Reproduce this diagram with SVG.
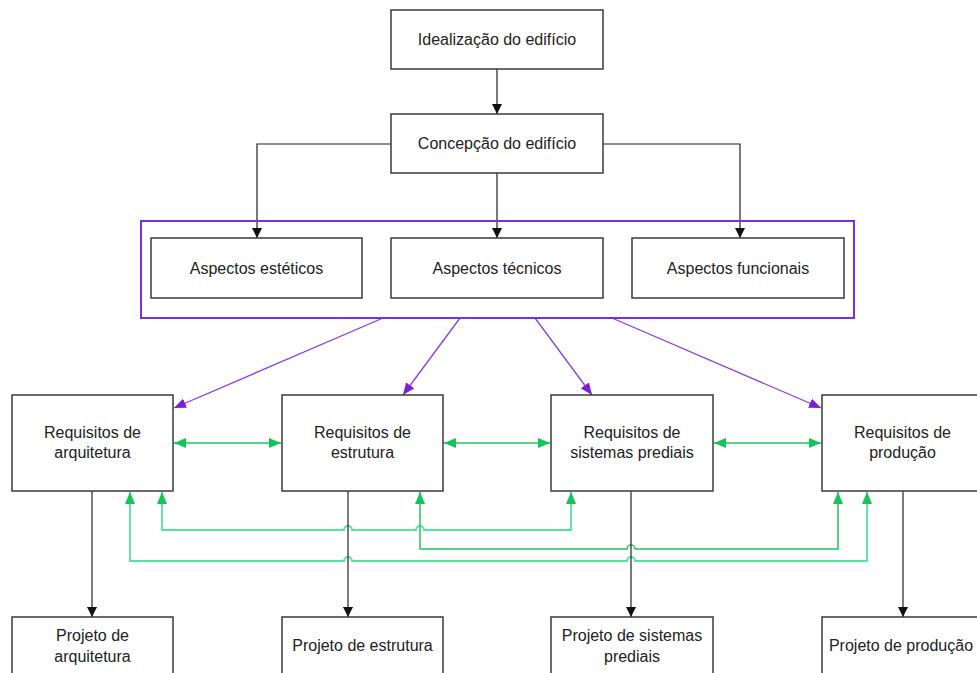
<svg xmlns="http://www.w3.org/2000/svg" width="977" height="673" viewBox="0 0 977 673">
  <style>
    .box { fill: #ffffff; stroke: #3a3a3a; stroke-width: 1.5; }
    .group { fill: none; stroke: #7a2ee0; stroke-width: 2; }
    .lbl { font-family: "Liberation Sans", Arial, sans-serif; font-size: 16px; fill: #222222; text-anchor: middle; }
    .blk { fill: none; stroke: #222222; stroke-width: 1.2; }
    .pur { fill: none; stroke: #8a3ee6; stroke-width: 1.3; }
    .grn { fill: none; stroke: #22c55e; stroke-width: 1.5; }
    .grnl { fill: none; stroke: #55e3a0; stroke-width: 1.8; }
  </style>
  <defs>
    <marker id="ahBlack" viewBox="0 0 10 10" refX="10" refY="5" markerWidth="10" markerHeight="10" markerUnits="userSpaceOnUse" orient="auto">
      <path d="M0,0 L10,5 L0,10 z" fill="#111111"/>
    </marker>
    <marker id="ahPurple" viewBox="0 0 12 10" refX="12" refY="5" markerWidth="12" markerHeight="10" markerUnits="userSpaceOnUse" orient="auto">
      <path d="M0,0 L12,5 L0,10 z" fill="#7a1fd6"/>
    </marker>
    <marker id="ahGreen" viewBox="0 0 12 10" refX="12" refY="5" markerWidth="12" markerHeight="10" markerUnits="userSpaceOnUse" orient="auto-start-reverse">
      <path d="M0,0 L12,5 L0,10 z" fill="#14c35a"/>
    </marker>
  </defs>

  <!-- connectors -->
  <g id="connectors">
    <path class="blk" d="M497,69 V114" marker-end="url(#ahBlack)"/>
    <path class="blk" d="M391,144 H257 V238" marker-end="url(#ahBlack)"/>
    <path class="blk" d="M497,173 V238" marker-end="url(#ahBlack)"/>
    <path class="blk" d="M603,144 H740 V238" marker-end="url(#ahBlack)"/>

    <path class="pur" d="M383,318 L174,408" marker-end="url(#ahPurple)"/>
    <path class="pur" d="M460,318 L403,395" marker-end="url(#ahPurple)"/>
    <path class="pur" d="M535,318 L592,395" marker-end="url(#ahPurple)"/>
    <path class="pur" d="M612,318 L821,408" marker-end="url(#ahPurple)"/>

    <path class="grn" d="M174,443 H281" marker-start="url(#ahGreen)" marker-end="url(#ahGreen)"/>
    <path class="grn" d="M444,443 H550" marker-start="url(#ahGreen)" marker-end="url(#ahGreen)"/>
    <path class="grn" d="M714,443 H821" marker-start="url(#ahGreen)" marker-end="url(#ahGreen)"/>

    <path class="grnl" d="M162,492 V530 H344 A4,4 0 0 1 352,530 H416 A4,4 0 0 1 424,530 H571 V492" marker-start="url(#ahGreen)" marker-end="url(#ahGreen)"/>
    <path class="grn" d="M420,492 V549 H627 A4,4 0 0 1 635,549 H838 V492" marker-start="url(#ahGreen)" marker-end="url(#ahGreen)"/>
    <path class="grnl" d="M130,492 V561 H344 A4,4 0 0 1 352,561 H627 A4,4 0 0 1 635,561 H867 V492" marker-start="url(#ahGreen)" marker-end="url(#ahGreen)"/>

    <path class="blk" d="M92,491 V617" marker-end="url(#ahBlack)"/>
    <path class="blk" d="M348,491 V617" marker-end="url(#ahBlack)"/>
    <path class="blk" d="M631,491 V617" marker-end="url(#ahBlack)"/>
    <path class="blk" d="M903,491 V617" marker-end="url(#ahBlack)"/>
  </g>

  <g id="idealizacao">
    <rect class="box" x="391" y="10" width="212" height="59"/>
    <text class="lbl" x="497" y="45">Idealização do edifício</text>
  </g>
  <g id="concepcao">
    <rect class="box" x="391" y="114" width="212" height="59"/>
    <text class="lbl" x="497" y="149">Concepção do edifício</text>
  </g>

  <g id="aspectos">
    <rect class="group" x="141" y="221" width="713" height="97"/>
  </g>
  <g id="esteticos">
    <rect class="box" x="151" y="238" width="211" height="60"/>
    <text class="lbl" x="256.5" y="274">Aspectos estéticos</text>
  </g>
  <g id="tecnicos">
    <rect class="box" x="391" y="238" width="212" height="60"/>
    <text class="lbl" x="497" y="274">Aspectos técnicos</text>
  </g>
  <g id="funcionais">
    <rect class="box" x="632" y="238" width="212" height="60"/>
    <text class="lbl" x="738" y="274">Aspectos funcionais</text>
  </g>

  <g id="req-arquitetura">
    <rect class="box" x="12" y="395" width="161" height="96"/>
    <text class="lbl" x="92.5" y="438">Requisitos de</text>
    <text class="lbl" x="92.5" y="458">arquitetura</text>
  </g>
  <g id="req-estrutura">
    <rect class="box" x="282" y="395" width="161" height="96"/>
    <text class="lbl" x="362.5" y="438">Requisitos de</text>
    <text class="lbl" x="362.5" y="458">estrutura</text>
  </g>
  <g id="req-sistemas">
    <rect class="box" x="551" y="395" width="162" height="96"/>
    <text class="lbl" x="632" y="438">Requisitos de</text>
    <text class="lbl" x="632" y="458">sistemas prediais</text>
  </g>
  <g id="req-producao">
    <rect class="box" x="822" y="395" width="161" height="96"/>
    <text class="lbl" x="902.5" y="438">Requisitos de</text>
    <text class="lbl" x="902.5" y="458">produção</text>
  </g>

  <g id="proj-arquitetura">
    <rect class="box" x="12" y="617" width="161" height="70"/>
    <text class="lbl" x="92.5" y="641">Projeto de</text>
    <text class="lbl" x="92.5" y="662">arquitetura</text>
  </g>
  <g id="proj-estrutura">
    <rect class="box" x="282" y="617" width="161" height="70"/>
    <text class="lbl" x="362.5" y="651">Projeto de estrutura</text>
  </g>
  <g id="proj-sistemas">
    <rect class="box" x="551" y="617" width="162" height="70"/>
    <text class="lbl" x="632" y="641">Projeto de sistemas</text>
    <text class="lbl" x="632" y="662">prediais</text>
  </g>
  <g id="proj-producao">
    <rect class="box" x="822" y="617" width="161" height="70"/>
    <text class="lbl" x="901" y="651">Projeto de produção</text>
  </g>
</svg>
